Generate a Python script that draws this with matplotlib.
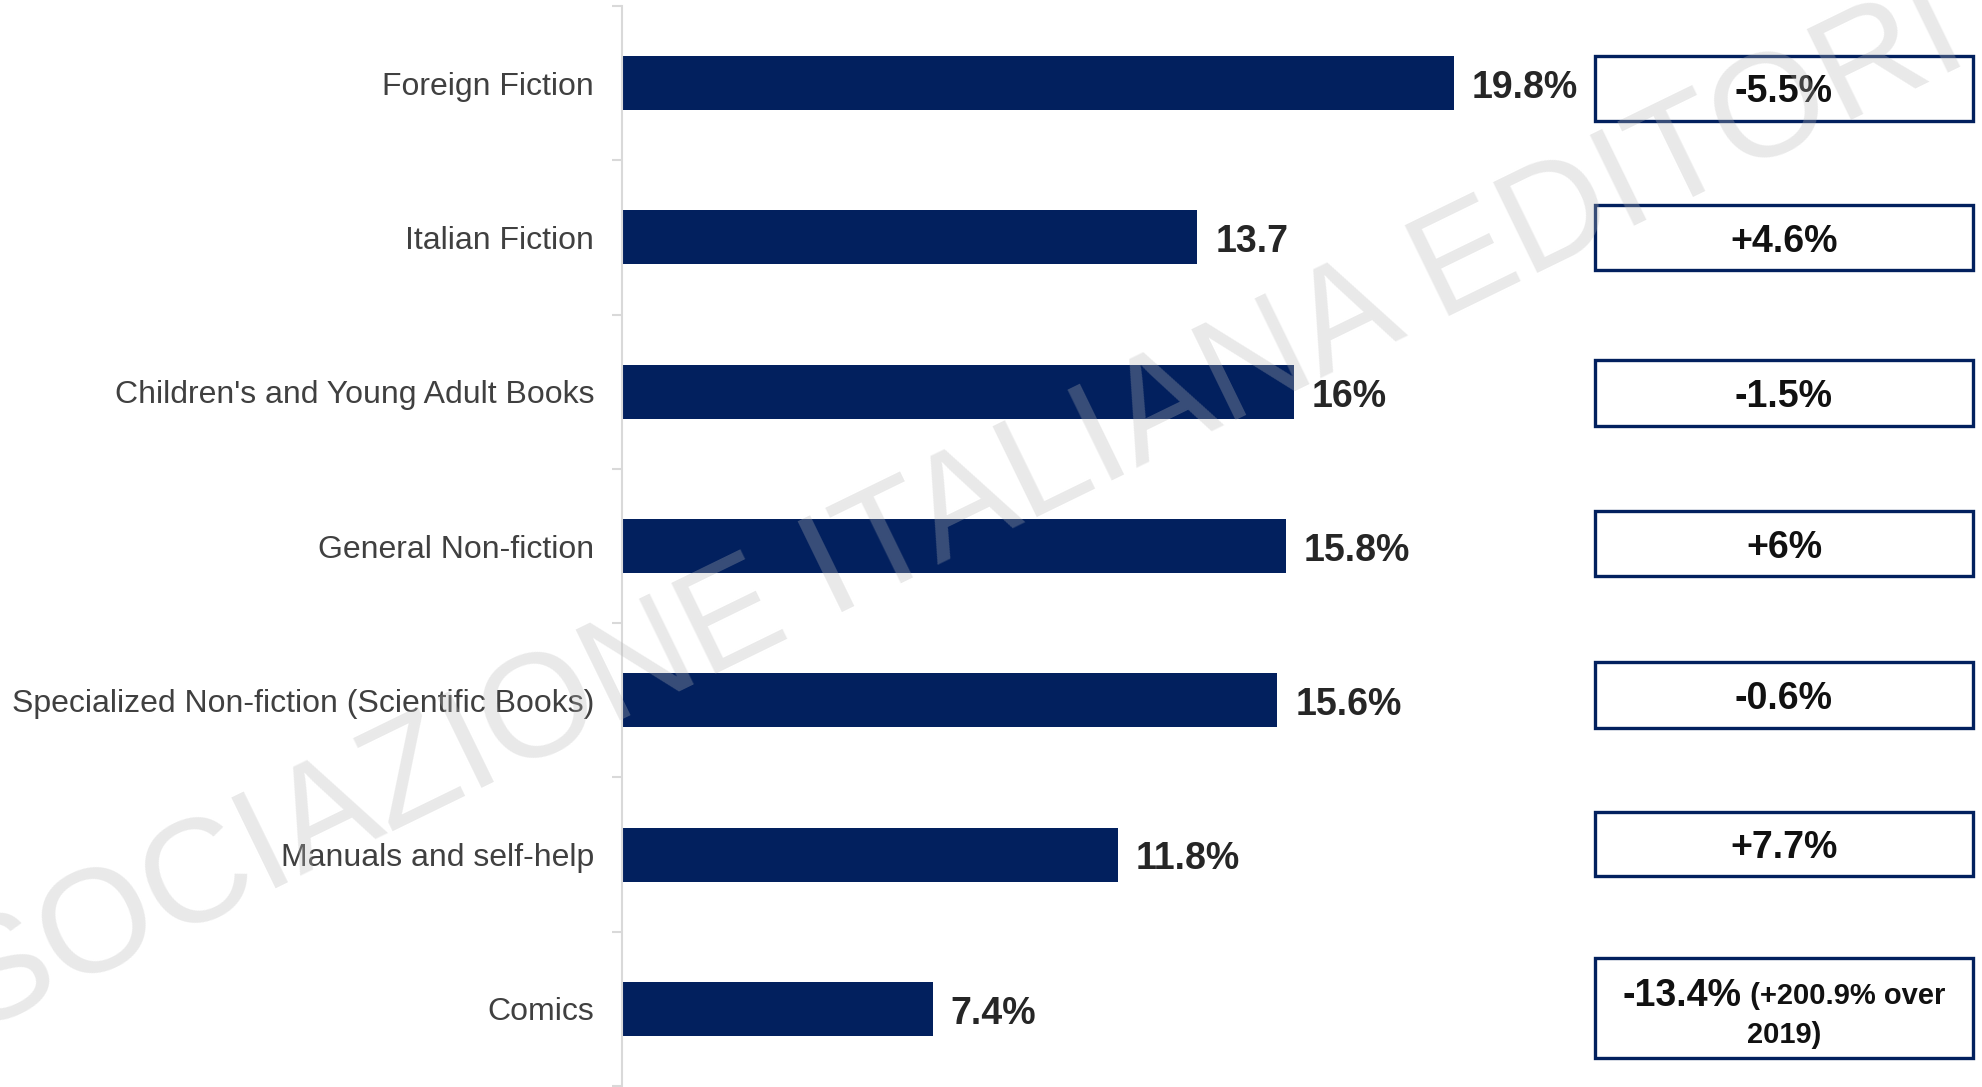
import matplotlib
matplotlib.use("Agg")
import matplotlib.pyplot as plt
from matplotlib.patches import Rectangle

plt.rcParams['font.family'] = ['Liberation Sans', 'DejaVu Sans']

categories = ["Foreign Fiction", "Italian Fiction", "Children's and Young Adult Books",
              "General Non-fiction", "Specialized Non-fiction (Scientific Books)",
              "Manuals and self-help", "Comics"]
shares = [19.8, 13.7, 16.0, 15.8, 15.6, 11.8, 7.4]
share_labels = ["19.8%", "13.7", "16%", "15.8%", "15.6%", "11.8%", "7.4%"]
changes = ["-5.5%", "+4.6%", "-1.5%", "+6%", "-0.6%", "+7.7%", "-13.4%"]
comics_note = ["(+200.9% over", "2019)"]

NAVY = '#02205e'
W, H = 1982, 1087
fig = plt.figure(figsize=(W / 100, H / 100), dpi=100)

# axes placement in pixels
ax_x0, ax_x1 = 622, 1982
ax_y0, ax_y1 = 6, 1086
ax = fig.add_axes([ax_x0 / W, 1 - ax_y1 / H, (ax_x1 - ax_x0) / W, (ax_y1 - ax_y0) / H])
px_per_unit = 42.0
ax.set_xlim(0, (ax_x1 - ax_x0) / px_per_unit)
ax.set_ylim(len(categories) - 0.5, -0.5)

ypos = list(range(len(categories)))
ax.barh(ypos, shares, height=0.35, color=NAVY, zorder=2)
for y, v, lab in zip(ypos, shares, share_labels):
    ax.annotate(lab, (v, y), xytext=(13, -3.5), textcoords='offset points',
                ha='left', va='center', fontsize=27, fontweight='bold', color='#262626')

for s in ['top', 'right', 'bottom']:
    ax.spines[s].set_visible(False)
ax.spines['left'].set_color('#d9d9d9')
ax.spines['left'].set_linewidth(1.5)
ax.set_xticks([])
ax.set_yticks(ypos)
ax.set_yticklabels(categories, fontsize=23, color='#404040')
ax.tick_params(axis='y', which='major', length=0, pad=20)
ax.set_yticks([i - 0.5 for i in range(len(categories) + 1)], minor=True)
ax.tick_params(axis='y', which='minor', length=7, width=1.5, color='#d9d9d9')
ax.patch.set_visible(False)

# change boxes (pixel layout)
box_x0, box_x1 = 1595, 1973
boxes = [(56, 121), (205, 270), (360, 426), (511, 576), (662, 728), (812, 876), (958, 1058)]
for i, (t, b) in enumerate(boxes):
    r = Rectangle((box_x0 / W, 1 - b / H), (box_x1 - box_x0) / W, (b - t) / H,
                  transform=fig.transFigure, fill=False, edgecolor=NAVY, linewidth=2.4,
                  zorder=3)
    fig.add_artist(r)
    cx = (box_x0 + box_x1) / 2 / W
    if i < len(boxes) - 1:
        fig.text(cx, 1 - ((t + b) / 2 + 4) / H, changes[i], ha='center', va='center',
                 fontsize=27, fontweight='bold', color='#111111')

# comics box with two-size text
fig.canvas.draw()
renderer = fig.canvas.get_renderer()
y1 = 1 - 996 / H
y2 = 1 - 1035 / H
ta = fig.text(0, y1, changes[-1], ha='left', va='center', fontsize=27,
              fontweight='bold', color='#111111')
tb = fig.text(0, y1, " " + comics_note[0], ha='left', va='center', fontsize=21,
              fontweight='bold', color='#111111')
wa = ta.get_window_extent(renderer).width
wb = tb.get_window_extent(renderer).width
cxp = (box_x0 + box_x1) / 2
start = cxp - (wa + wb) / 2
ta.set_x(start / W)
tb.set_x((start + wa) / W)
fig.text(cxp / W, y2, comics_note[1], ha='center', va='center', fontsize=21,
         fontweight='bold', color='#111111')

# watermark
fig.text(870 / W, 1 - 556 / H, "ASSOCIAZIONE ITALIANA EDITORI", fontsize=106,
         rotation=26, rotation_mode='anchor', ha='center', va='center',
         color=(0.72, 0.72, 0.72), alpha=0.3, zorder=10)

fig.savefig("out.png", dpi=100)
